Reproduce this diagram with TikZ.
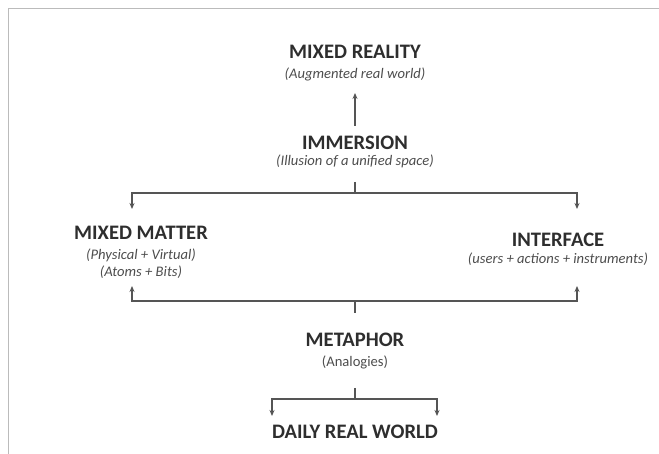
\documentclass[tikz,border=0pt]{standalone}
\usepackage{fontspec}
\setmainfont{Carlito}
\usetikzlibrary{arrows.meta}

\definecolor{ink}{HTML}{2E2E2E}
\definecolor{linegray}{HTML}{555555}
\definecolor{framegray}{HTML}{BBBBBB}

\tikzset{
    title/.style={font=\fontsize{20.6}{22}\selectfont\bfseries, text=ink, inner sep=0pt},
    sub/.style={font=\fontsize{14.6}{16}\selectfont\itshape, text=ink!85, inner sep=0pt},
    link/.style={draw=linegray, line width=1.2pt},
    tip/.style={-{Stealth[length=6pt,width=5pt]}}
}

\begin{document}
\begin{tikzpicture}[x=1pt, y=-1pt]
    \useasboundingbox (0,0) rectangle (659,454);
    % frame
    \draw[framegray, line width=1pt] (8,454) -- (8,9) -- (659,9);

    % top
    \node[title] (mr) at (355,52) {MIXED REALITY};
    \node[sub] (mrsub) at (355,74) {(Augmented real world)};
    \node[title] (imm) at (355,143) {IMMERSION};
    \node[sub] (immsub) at (355,161) {(Illusion of a unified space)};

    % middle
    \node[title] (mm) at (141,233) {MIXED MATTER};
    \node[sub] (mmsub1) at (141,255) {(Physical + Virtual)};
    \node[sub] (mmsub2) at (141,272) {(Atoms + Bits)};
    \node[title] (itf) at (558,240) {INTERFACE};
    \node[sub] (itfsub) at (558,259.5) {(users + actions + instruments)};

    % bottom
    \node[title] (met) at (355,340) {METAPHOR};
    \node[font=\fontsize{14.6}{16}\selectfont, text=ink!85, inner sep=0pt] (metsub) at (355,362) {(Analogies)};
    \node[title] (drw) at (355,432) {DAILY REAL WORLD};

    % junctions
    \coordinate (a0) at (355,126);
    \coordinate (a1) at (355,93);
    \coordinate (t1) at (355,182);
    \coordinate (jA) at (355,193);
    \coordinate (mmtop) at (132,209);
    \coordinate (itftop) at (577,209);
    \coordinate (t2) at (355,313);
    \coordinate (jB) at (355,301);
    \coordinate (mmbot) at (132,286);
    \coordinate (itfbot) at (577,286);
    \coordinate (t3) at (355,388);
    \coordinate (jC) at (355,399);
    \coordinate (dl) at (272,416);
    \coordinate (dr) at (437,416);

    % connectors
    \draw[link, tip] (a0) -- (a1);
    \draw[link] (t1) -- (jA);
    \draw[link, tip] (jA) -| (mmtop);
    \draw[link, tip] (jA) -| (itftop);
    \draw[link] (t2) -- (jB);
    \draw[link, tip] (jB) -| (mmbot);
    \draw[link, tip] (jB) -| (itfbot);
    \draw[link] (t3) -- (jC);
    \draw[link, tip] (jC) -| (dl);
    \draw[link, tip] (jC) -| (dr);
\end{tikzpicture}
\end{document}
